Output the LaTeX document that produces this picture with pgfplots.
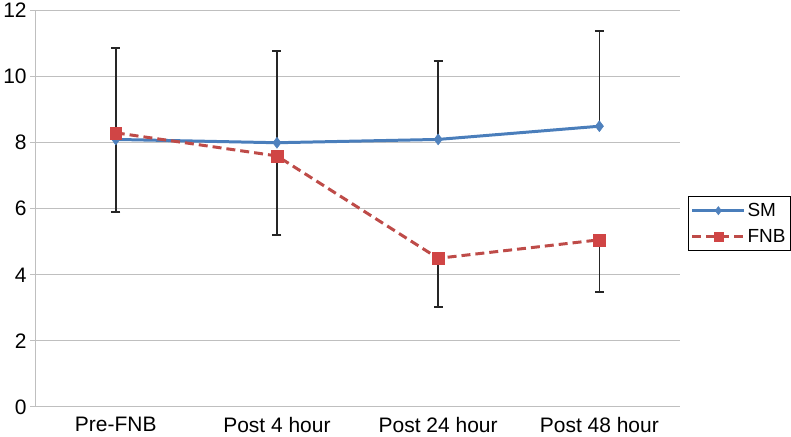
\documentclass[border=0pt]{standalone}
\usepackage{fontspec}
\setmainfont{Liberation Sans}
\usepackage{pgfplots}
\pgfplotsset{compat=1.18}
\definecolor{gridc}{HTML}{BFBFBF}
\definecolor{smline}{HTML}{4A7EBB}
\definecolor{smfill}{HTML}{4F81BD}
\definecolor{fnbline}{HTML}{BE4B48}
\definecolor{fnbfill}{HTML}{D04545}
\definecolor{errc}{HTML}{262626}

\begin{document}
\begin{tikzpicture}
\begin{axis}[
  scale only axis, width=646pt, height=397pt,
  xmin=-0.5, xmax=3.5, ymin=0, ymax=12,
  axis x line*=bottom, axis y line*=left,
  axis line style={draw=gridc, line width=1pt, -},
  xtick={0,1,2,3}, xticklabels={Pre-FNB, Post 4 hour, Post 24 hour, Post 48 hour},
  major x tick style={draw=none},
  extra x ticks={-0.5,0.5,1.5,2.5,3.5}, extra x tick labels={},
  extra x tick style={major tick length=5pt, tick align=outside, major tick style={draw=gridc, line width=1pt}, grid=none},
  ytick={0,2,...,12}, ymajorgrids,
  grid style={draw=gridc, line width=1pt},
  tick align=outside, major tick length=5pt,
  major y tick style={draw=gridc, line width=1pt},
  ticklabel style={font=\fontsize{21}{24}\selectfont, text=black},
  /pgf/number format/assume math mode=true,
  xticklabel style={yshift=-2pt},
  legend style={draw=black, line width=1pt, fill=white,
    font=\fontsize{19}{22}\selectfont,
    at={(1.012,0.463)}, anchor=west, inner xsep=3pt, inner ysep=5pt,
    row sep=7pt, cells={anchor=west}},
  legend image code/.code={\draw[mark repeat=2,mark phase=2,#1,line width=2.5pt,every mark/.append style={scale=0.75}] plot coordinates {(0pt,0pt) (26pt,0pt) (52pt,0pt)};},
  clip=false,
]
\addplot[smline, line width=3pt, mark=diamond*, mark size=5.5pt,
  mark options={fill=smfill, draw=smfill, solid, line width=0.5pt},
  error bars/.cd, y dir=plus, y explicit,
  error bar style={errc, line width=1.6pt, solid},
  error mark options={rotate=90, errc, mark size=4.5pt, line width=1.6pt}]
  coordinates {(0,8.1) +- (0,2.77) (1,8.0) +- (0,2.78) (2,8.1) +- (0,2.38) (3,8.5) +- (0,2.88)};
\addlegendentry{SM}
\addplot[fnbline, line width=3pt, dash pattern=on 9pt off 5pt, mark=square*, mark size=6pt,
  mark options={fill=fnbfill, draw=fnbfill, solid, line width=0.5pt},
  error bars/.cd, y dir=minus, y explicit,
  error bar style={errc, line width=1.6pt, solid},
  error mark options={rotate=90, errc, mark size=4.5pt, line width=1.6pt}]
  coordinates {(0,8.3) +- (0,2.39) (1,7.6) +- (0,2.39) (2,4.5) +- (0,1.47) (3,5.06) +- (0,1.58)};
\addlegendentry{FNB}
\end{axis}
\end{tikzpicture}
\end{document}
